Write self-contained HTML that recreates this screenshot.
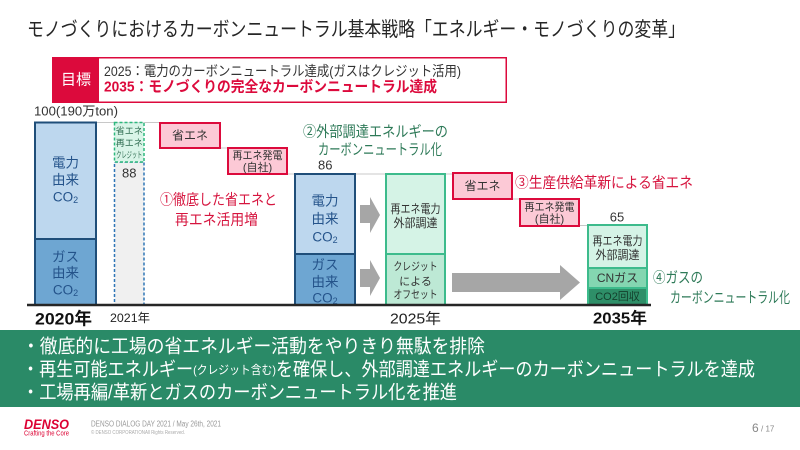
<!DOCTYPE html>
<html><head><meta charset="utf-8"><style>
html,body{margin:0;padding:0;background:#fff;}
svg{display:block;}
text{font-family:"Liberation Sans","Noto Sans CJK JP",sans-serif;dominant-baseline:central;}
</style></head><body>
<svg width="800" height="450" viewBox="0 0 800 450" xmlns="http://www.w3.org/2000/svg">
<rect width="800" height="450" fill="#fff"/>
<!-- Title -->
<text x="27" y="30" font-size="20" fill="#262626" textLength="658" lengthAdjust="spacingAndGlyphs">モノづくりにおけるカーボンニュートラル基本戦略「エネルギー・モノづくりの変革」</text>

<!-- Goal box -->
<rect x="52.75" y="57.75" width="453.5" height="44.5" fill="#fff" stroke="#dc0a3c" stroke-width="1.5"/>
<rect x="52" y="57" width="47" height="46" fill="#dc0a3c"/>
<text x="76" y="80" font-size="15" fill="#fff" text-anchor="middle">目標</text>
<text x="104" y="71" font-size="14" fill="#333" textLength="357" lengthAdjust="spacingAndGlyphs">2025：電力のカーボンニュートラル達成(ガスはクレジット活用)</text>
<text x="104" y="87" font-size="15" font-weight="bold" fill="#dc0a3c" textLength="333" lengthAdjust="spacingAndGlyphs">2035：モノづくりの完全なカーボンニュートラル達成</text>

<text x="34" y="111" font-size="13" fill="#333" textLength="84" lengthAdjust="spacingAndGlyphs">100(190万ton)</text>

<!-- gray guide lines -->
<g stroke="#c8c8c8" stroke-width="1">
<line x1="96" y1="122.5" x2="160" y2="122.5"/>
<line x1="220" y1="148" x2="228" y2="148"/>
<line x1="287" y1="174" x2="455" y2="174"/>
<line x1="512" y1="199" x2="520" y2="199"/>
<line x1="579" y1="225.5" x2="588" y2="225.5"/>
</g>

<!-- 2020 bar -->
<rect x="35" y="122.5" width="61" height="116.5" fill="#bdd7ee" stroke="#1f4e79" stroke-width="2"/>
<rect x="35" y="239" width="61" height="66" fill="#6ea6d2" stroke="#1f4e79" stroke-width="2"/>
<g font-size="13.5" fill="#24538a" text-anchor="middle">
<text x="65.5" y="163">電力</text>
<text x="65.5" y="180">由来</text>
<text x="65.5" y="197">CO<tspan font-size="9" dy="3">2</tspan></text>
<text x="65.5" y="257">ガス</text>
<text x="65.5" y="273">由来</text>
<text x="65.5" y="290">CO<tspan font-size="9" dy="3">2</tspan></text>
</g>

<!-- 2021 bar -->
<rect x="114.5" y="162" width="29.5" height="143" fill="#f0f0f0" stroke="#2e75b6" stroke-width="1.5" stroke-dasharray="3 2"/>
<rect x="114.5" y="122.5" width="29.5" height="39.5" fill="#d9f5e8" stroke="#2eb87e" stroke-width="1.5" stroke-dasharray="3 2"/>
<g font-size="9" fill="#2d6b4f" text-anchor="middle">
<text x="129.25" y="131">省エネ</text>
<text x="129.25" y="143">再エネ</text>
<text x="129.25" y="155" textLength="26" lengthAdjust="spacingAndGlyphs">クレジット</text>
</g>
<text x="129.25" y="173" font-size="13" fill="#333" text-anchor="middle">88</text>

<!-- ① boxes -->
<rect x="160" y="123" width="60" height="25" fill="#fcc9d6" stroke="#dc0a3c" stroke-width="2"/>
<text x="190" y="135.5" font-size="12" fill="#333" text-anchor="middle">省エネ</text>
<rect x="228" y="148" width="59" height="26" fill="#fcc9d6" stroke="#dc0a3c" stroke-width="2"/>
<text x="257.5" y="156" font-size="11" fill="#333" text-anchor="middle" textLength="50" lengthAdjust="spacingAndGlyphs">再エネ発電</text>
<text x="257.5" y="168" font-size="11" fill="#333" text-anchor="middle">(自社)</text>
<text x="160" y="200" font-size="15" fill="#d6153f" textLength="117" lengthAdjust="spacingAndGlyphs">①徹底した省エネと</text>
<text x="175" y="220" font-size="15" fill="#d6153f" textLength="83" lengthAdjust="spacingAndGlyphs">再エネ活用増</text>

<!-- 2025 bar -->
<rect x="295" y="174" width="60" height="80" fill="#bdd7ee" stroke="#1f4e79" stroke-width="2"/>
<rect x="295" y="254" width="60" height="51" fill="#6ea6d2" stroke="#1f4e79" stroke-width="2"/>
<g font-size="13.5" fill="#24538a" text-anchor="middle">
<text x="325" y="201">電力</text>
<text x="325" y="219">由来</text>
<text x="325" y="237">CO<tspan font-size="9" dy="3">2</tspan></text>
<text x="325" y="265">ガス</text>
<text x="325" y="282">由来</text>
<text x="325" y="298">CO<tspan font-size="9" dy="3">2</tspan></text>
</g>
<text x="318" y="165" font-size="13" fill="#333">86</text>
<text x="303" y="132" font-size="15" fill="#2e7a58" textLength="145" lengthAdjust="spacingAndGlyphs">②外部調達エネルギーの</text>
<text x="318" y="150" font-size="15" fill="#2e7a58" textLength="124" lengthAdjust="spacingAndGlyphs">カーボンニュートラル化</text>

<!-- arrows -->
<polygon points="360,205 370,205 370,197 380,215 370,233 370,223 360,223" fill="#a6a6a6"/>
<polygon points="360,269 370,269 370,260 380,278 370,296 370,287 360,287" fill="#a6a6a6"/>

<!-- 2025 green -->
<rect x="386" y="174" width="59" height="80" fill="#d5f3e6" stroke="#3dbb8c" stroke-width="2"/>
<rect x="386" y="254" width="59" height="51" fill="#bde9d5" stroke="#3dbb8c" stroke-width="2"/>
<text x="415.5" y="209" font-size="12" fill="#333" text-anchor="middle" textLength="50" lengthAdjust="spacingAndGlyphs">再エネ電力</text>
<text x="415.5" y="223" font-size="12" fill="#333" text-anchor="middle" textLength="44" lengthAdjust="spacingAndGlyphs">外部調達</text>
<text x="415.5" y="267" font-size="11" fill="#333" text-anchor="middle" textLength="44" lengthAdjust="spacingAndGlyphs">クレジット</text>
<text x="415.5" y="282" font-size="11" fill="#333" text-anchor="middle">による</text>
<text x="415.5" y="295" font-size="11" fill="#333" text-anchor="middle" textLength="44" lengthAdjust="spacingAndGlyphs">オフセット</text>

<!-- big arrow -->
<polygon points="452,273 560,273 560,265 580,282.5 560,300 560,292 452,292" fill="#a6a6a6"/>

<!-- ③ boxes -->
<rect x="453" y="173" width="59" height="26" fill="#fcc9d6" stroke="#dc0a3c" stroke-width="2"/>
<text x="482.5" y="186" font-size="12" fill="#333" text-anchor="middle">省エネ</text>
<rect x="520" y="199" width="59" height="27" fill="#fcc9d6" stroke="#dc0a3c" stroke-width="2"/>
<text x="549.5" y="207.5" font-size="11" fill="#333" text-anchor="middle" textLength="50" lengthAdjust="spacingAndGlyphs">再エネ発電</text>
<text x="549.5" y="219.5" font-size="11" fill="#333" text-anchor="middle">(自社)</text>
<text x="515" y="183" font-size="15" fill="#d6153f" textLength="178" lengthAdjust="spacingAndGlyphs">③生産供給革新による省エネ</text>

<!-- 2035 bar -->
<text x="617" y="217" font-size="13" fill="#333" text-anchor="middle">65</text>
<rect x="588" y="225" width="59" height="43" fill="#d5f3e6" stroke="#3dbb8c" stroke-width="2"/>
<rect x="588" y="268" width="59" height="20" fill="#84d6b1" stroke="#3dbb8c" stroke-width="2"/>
<rect x="588" y="288" width="59" height="17" fill="#2e8f68" stroke="#3dbb8c" stroke-width="2"/>
<text x="617.5" y="241" font-size="12" fill="#333" text-anchor="middle" textLength="50" lengthAdjust="spacingAndGlyphs">再エネ電力</text>
<text x="617.5" y="255" font-size="12" fill="#333" text-anchor="middle" textLength="44" lengthAdjust="spacingAndGlyphs">外部調達</text>
<text x="617.5" y="278" font-size="12" fill="#333" text-anchor="middle">CNガス</text>
<text x="617.5" y="297" font-size="11" fill="#143f2c" text-anchor="middle">CO2回収</text>
<text x="653" y="278" font-size="15" fill="#2e7a58" textLength="50" lengthAdjust="spacingAndGlyphs">④ガスの</text>
<text x="670" y="298" font-size="15" fill="#2e7a58" textLength="120" lengthAdjust="spacingAndGlyphs">カーボンニュートラル化</text>

<!-- axis -->
<line x1="27" y1="305" x2="651" y2="305" stroke="#262626" stroke-width="2.5"/>
<text x="35" y="319" font-size="17" font-weight="bold" fill="#111" textLength="57" lengthAdjust="spacingAndGlyphs">2020年</text>
<text x="110" y="318" font-size="12" fill="#222" textLength="40" lengthAdjust="spacingAndGlyphs">2021年</text>
<text x="390" y="319" font-size="15" fill="#222" textLength="51" lengthAdjust="spacingAndGlyphs">2025年</text>
<text x="593" y="319" font-size="16" font-weight="bold" fill="#111" textLength="54" lengthAdjust="spacingAndGlyphs">2035年</text>

<!-- band -->
<rect x="0" y="330" width="800" height="77" fill="#2a8a67"/>
<text x="22" y="347" font-size="19" fill="#fff" textLength="463" lengthAdjust="spacingAndGlyphs">・徹底的に工場の省エネルギー活動をやりきり無駄を排除</text>
<text x="22" y="370" font-size="19" fill="#fff" textLength="733" lengthAdjust="spacingAndGlyphs">・再生可能エネルギー<tspan font-size="12">(クレジット含む)</tspan>を確保し、外部調達エネルギーのカーボンニュートラルを達成</text>
<text x="22" y="393" font-size="19" fill="#fff" textLength="435" lengthAdjust="spacingAndGlyphs">・工場再編/革新とガスのカーボンニュートラル化を推進</text>

<!-- footer -->
<text x="24" y="424" font-size="14" font-weight="bold" font-style="italic" fill="#dc0032" textLength="45" lengthAdjust="spacingAndGlyphs">DENSO</text>
<text x="24" y="434" font-size="7" fill="#dc0032" textLength="45" lengthAdjust="spacingAndGlyphs">Crafting the Core</text>
<text x="91" y="424" font-size="8" fill="#999" textLength="130" lengthAdjust="spacingAndGlyphs">DENSO DIALOG DAY 2021 / May 26th, 2021</text>
<text x="91" y="433" font-size="5" fill="#aaa" textLength="94" lengthAdjust="spacingAndGlyphs">© DENSO CORPORATIONAll Rights Reserved.</text>
<text x="752" y="428" font-size="12" fill="#888">6</text>
<text x="761" y="429" font-size="8" fill="#888">/ 17</text>
</svg>
</body></html>
